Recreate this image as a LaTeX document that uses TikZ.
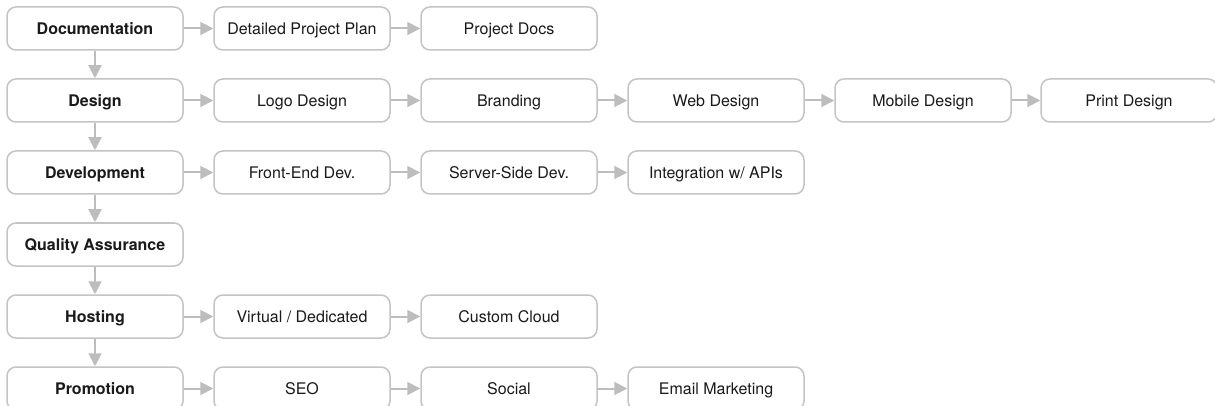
\documentclass[tikz,border=0pt]{standalone}
\usepackage{fontspec}
\setmainfont{TeX Gyre Heros}
\usetikzlibrary{arrows.meta}
\definecolor{BoxLine}{HTML}{C4C4C4}
\definecolor{ArrowGray}{HTML}{BDBDBD}
\definecolor{FontColor}{HTML}{1A1A1A}
\tikzset{
  stepnode/.style={rectangle, rounded corners=9pt, draw=BoxLine, line width=1.5pt,
    fill=white, minimum width=176pt, minimum height=43pt, inner sep=0pt,
    text height=14pt, text depth=2pt,
    text=FontColor, font=\fontsize{16}{18}\selectfont},
  phase/.style={stepnode, font=\fontsize{16}{18}\selectfont\bfseries},
  flow/.style={-{Triangle[width=13pt,length=13pt]}, draw=ArrowGray, fill=ArrowGray, line width=2pt}
}

\begin{document}
\begin{tikzpicture}[x=1pt, y=-1pt]
\useasboundingbox (0,0) rectangle (1215,406);
% phases
\node[phase] (doc) at (95, 28.5) {Documentation};
\node[phase] (des) at (95, 100.5) {Design};
\node[phase] (dev) at (95, 172.5) {Development};
\node[phase] (qa) at (95, 244.5) {Quality Assurance};
\node[phase] (host) at (95, 316.5) {Hosting};
\node[phase] (promo) at (95, 388.5) {Promotion};
% documentation
\node[stepnode] (plan) at (302, 28.5) {Detailed Project Plan};
\node[stepnode] (docs) at (509, 28.5) {Project Docs};
% design
\node[stepnode] (logo) at (302, 100.5) {Logo Design};
\node[stepnode] (brand) at (509, 100.5) {Branding};
\node[stepnode] (web) at (716, 100.5) {Web Design};
\node[stepnode] (mobile) at (923, 100.5) {Mobile Design};
\node[stepnode] (print) at (1129, 100.5) {Print Design};
% development
\node[stepnode] (front) at (302, 172.5) {Front-End Dev.};
\node[stepnode] (server) at (509, 172.5) {Server-Side Dev.};
\node[stepnode] (api) at (716, 172.5) {Integration w/ APIs};
% hosting
\node[stepnode] (virt) at (302, 316.5) {Virtual / Dedicated};
\node[stepnode] (cloud) at (509, 316.5) {Custom Cloud};
% promotion
\node[stepnode] (seo) at (302, 388.5) {SEO};
\node[stepnode] (social) at (509, 388.5) {Social};
\node[stepnode] (email) at (716, 388.5) {Email Marketing};
% phase chain
\draw [flow] (doc) -- (des);
\draw [flow] (des) -- (dev);
\draw [flow] (dev) -- (qa);
\draw [flow] (qa) -- (host);
\draw [flow] (host) -- (promo);
% rows
\draw [flow] (doc) -- (plan);
\draw [flow] (plan) -- (docs);
\draw [flow] (des) -- (logo);
\draw [flow] (logo) -- (brand);
\draw [flow] (brand) -- (web);
\draw [flow] (web) -- (mobile);
\draw [flow] (mobile) -- (print);
\draw [flow] (dev) -- (front);
\draw [flow] (front) -- (server);
\draw [flow] (server) -- (api);
\draw [flow] (host) -- (virt);
\draw [flow] (virt) -- (cloud);
\draw [flow] (promo) -- (seo);
\draw [flow] (seo) -- (social);
\draw [flow] (social) -- (email);
\end{tikzpicture}
\end{document}
